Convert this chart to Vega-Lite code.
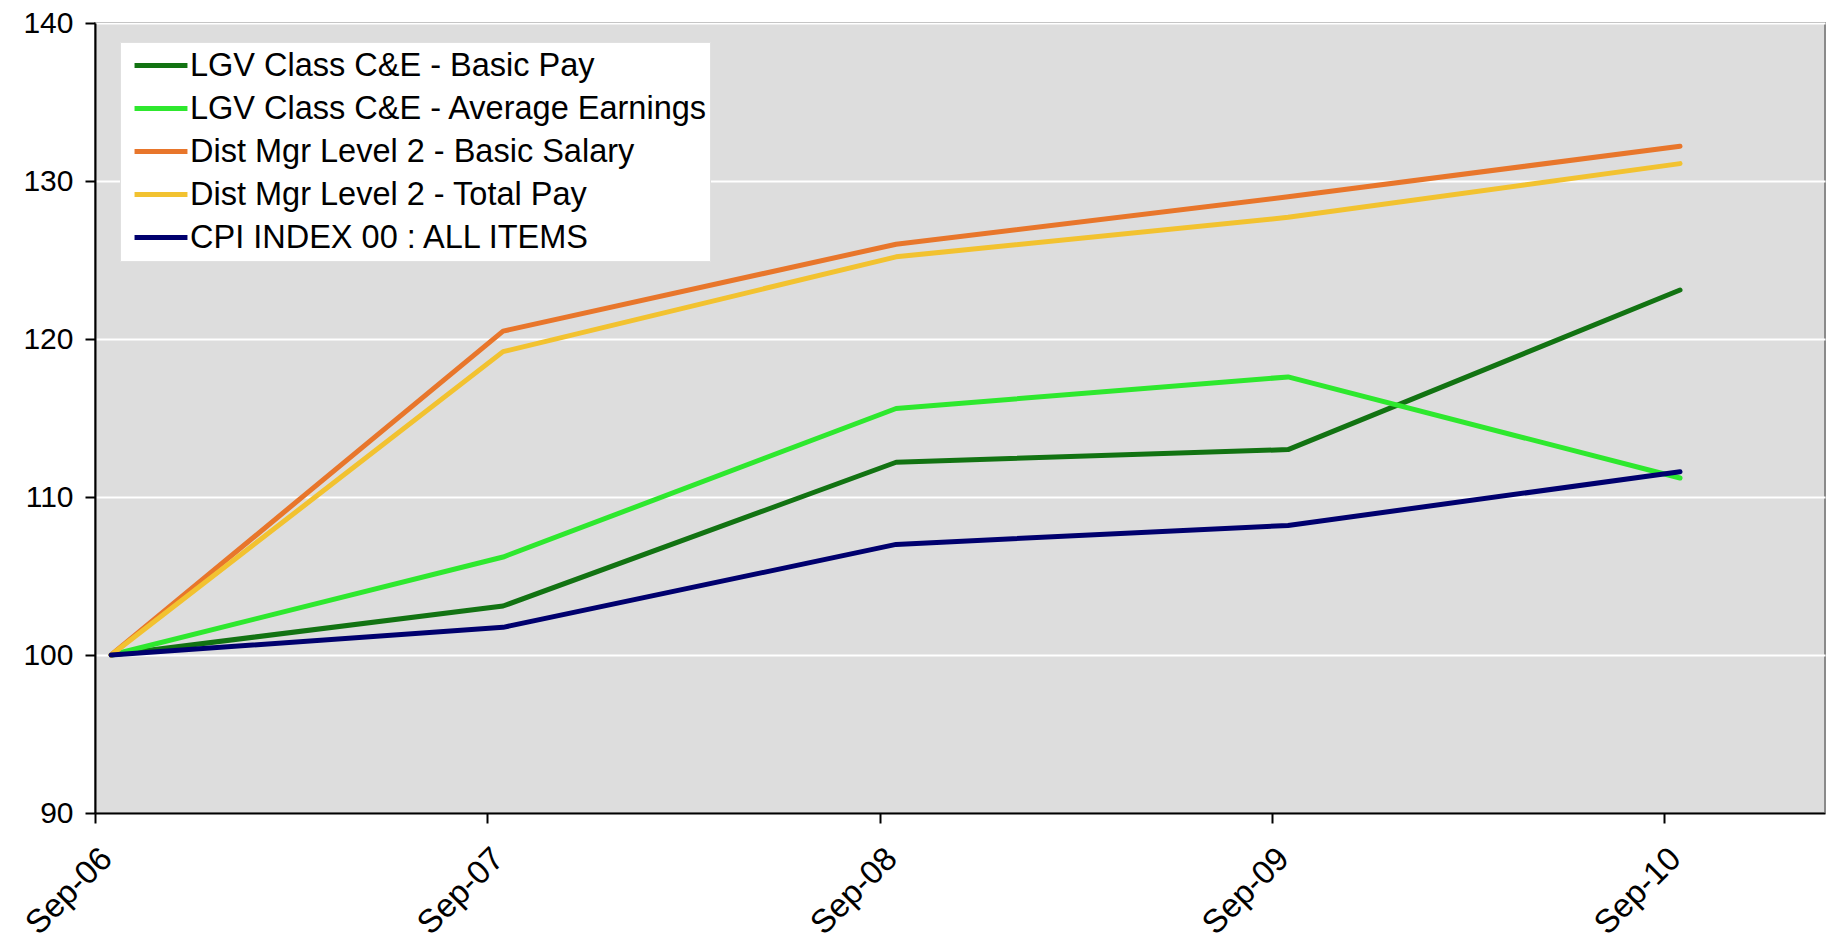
{
  "$schema": "https://vega.github.io/schema/vega-lite/v6.json",
  "width": 1730,
  "height": 790,
  "autosize": {"type": "none"},
  "padding": {"left": 95, "top": 23, "right": 5, "bottom": 131},
  "background": "white",
  "config": {
    "view": {"fill": "#DDDDDD", "stroke": "#8A8A8A", "strokeWidth": 2},
    "font": "Liberation Sans"
  },
  "data": {
    "values": [
      {"date": "2006-09-16", "series": "LGV Class C&E - Basic Pay", "value": 100},
      {"date": "2007-09-16", "series": "LGV Class C&E - Basic Pay", "value": 103.1},
      {"date": "2008-09-16", "series": "LGV Class C&E - Basic Pay", "value": 112.2},
      {"date": "2009-09-16", "series": "LGV Class C&E - Basic Pay", "value": 113.0},
      {"date": "2010-09-16", "series": "LGV Class C&E - Basic Pay", "value": 123.1},
      {"date": "2006-09-16", "series": "LGV Class C&E - Average Earnings", "value": 100},
      {"date": "2007-09-16", "series": "LGV Class C&E - Average Earnings", "value": 106.2},
      {"date": "2008-09-16", "series": "LGV Class C&E - Average Earnings", "value": 115.6},
      {"date": "2009-09-16", "series": "LGV Class C&E - Average Earnings", "value": 117.6},
      {"date": "2010-09-16", "series": "LGV Class C&E - Average Earnings", "value": 111.2},
      {"date": "2006-09-16", "series": "Dist Mgr Level 2 - Basic Salary", "value": 100},
      {"date": "2007-09-16", "series": "Dist Mgr Level 2 - Basic Salary", "value": 120.5},
      {"date": "2008-09-16", "series": "Dist Mgr Level 2 - Basic Salary", "value": 126.0},
      {"date": "2009-09-16", "series": "Dist Mgr Level 2 - Basic Salary", "value": 129.0},
      {"date": "2010-09-16", "series": "Dist Mgr Level 2 - Basic Salary", "value": 132.2},
      {"date": "2006-09-16", "series": "Dist Mgr Level 2 - Total Pay", "value": 100},
      {"date": "2007-09-16", "series": "Dist Mgr Level 2 - Total Pay", "value": 119.2},
      {"date": "2008-09-16", "series": "Dist Mgr Level 2 - Total Pay", "value": 125.2},
      {"date": "2009-09-16", "series": "Dist Mgr Level 2 - Total Pay", "value": 127.7},
      {"date": "2010-09-16", "series": "Dist Mgr Level 2 - Total Pay", "value": 131.1},
      {"date": "2006-09-16", "series": "CPI INDEX 00 : ALL ITEMS", "value": 100},
      {"date": "2007-09-16", "series": "CPI INDEX 00 : ALL ITEMS", "value": 101.75},
      {"date": "2008-09-16", "series": "CPI INDEX 00 : ALL ITEMS", "value": 107.0},
      {"date": "2009-09-16", "series": "CPI INDEX 00 : ALL ITEMS", "value": 108.2},
      {"date": "2010-09-16", "series": "CPI INDEX 00 : ALL ITEMS", "value": 111.6}
    ]
  },
  "mark": {"type": "line", "strokeWidth": 5, "strokeCap": "round", "strokeJoin": "round"},
  "encoding": {
    "x": {
      "field": "date",
      "type": "temporal",
      "title": null,
      "scale": {
        "type": "utc",
        "domain": [
          {"year": 2006, "month": 9, "date": 1, "utc": true},
          {"year": 2011, "month": 1, "date": 29, "utc": true}
        ]
      },
      "axis": {
        "values": [
          {"year": 2006, "month": 9, "date": 1, "utc": true},
          {"year": 2007, "month": 9, "date": 1, "utc": true},
          {"year": 2008, "month": 9, "date": 1, "utc": true},
          {"year": 2009, "month": 9, "date": 1, "utc": true},
          {"year": 2010, "month": 9, "date": 1, "utc": true}
        ],
        "format": "%b-%y",
        "labelAngle": -45,
        "labelFontSize": 33,
        "labelColor": "black",
        "labelPadding": 19,
        "tickSize": 10,
        "tickColor": "black",
        "tickWidth": 2,
        "domainColor": "black",
        "domainWidth": 2,
        "grid": false,
        "labelFlush": false,
        "labelOverlap": false
      }
    },
    "y": {
      "field": "value",
      "type": "quantitative",
      "title": null,
      "scale": {"domain": [90, 140], "nice": false, "zero": false},
      "axis": {
        "values": [90, 100, 110, 120, 130, 140],
        "labelFontSize": 30,
        "labelColor": "black",
        "labelPadding": 12,
        "tickSize": 10,
        "tickColor": "black",
        "tickWidth": 2,
        "domainColor": "black",
        "domainWidth": 2,
        "grid": true,
        "gridColor": "white",
        "gridWidth": 2,
        "gridOpacity": 1
      }
    },
    "color": {
      "field": "series",
      "type": "nominal",
      "sort": null,
      "scale": {
        "domain": [
          "LGV Class C&E - Basic Pay",
          "LGV Class C&E - Average Earnings",
          "Dist Mgr Level 2 - Basic Salary",
          "Dist Mgr Level 2 - Total Pay",
          "CPI INDEX 00 : ALL ITEMS"
        ],
        "range": ["#127312", "#2EE82E", "#E8762B", "#F2C230", "#00006E"]
      },
      "legend": {
        "title": null,
        "orient": "none",
        "legendX": 25,
        "legendY": 19,
        "fillColor": "white",
        "strokeColor": "#E0E0E0",
        "padding": 2,
        "symbolOffset": 10,
        "symbolType": "stroke",
        "symbolSize": 2800,
        "symbolStrokeWidth": 5,
        "labelFontSize": 32.5,
        "labelColor": "black",
        "labelOffset": 0,
        "labelLimit": 1000,
        "rowPadding": 0,
        "clipHeight": 43
      }
    }
  }
}
